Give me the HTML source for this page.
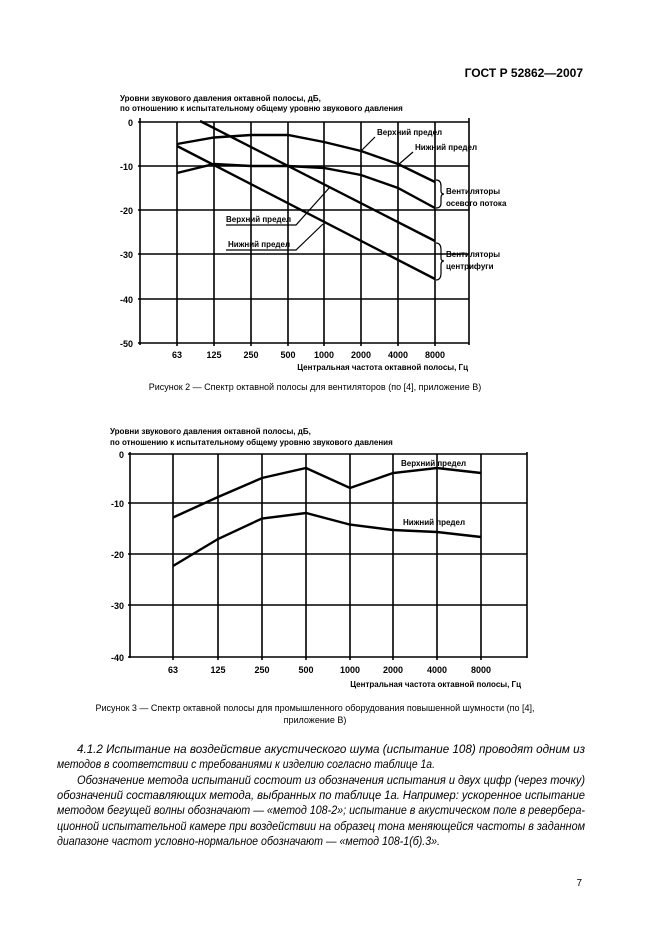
<!DOCTYPE html>
<html><head><meta charset="utf-8"><style>
body{margin:0;background:#fff;}
svg{display:block;font-family:"Liberation Sans","DejaVu Sans",sans-serif;}
.t{font-size:8px;font-weight:bold;}
.tk{font-size:9px;font-weight:bold;}
.gr{stroke:#000;stroke-width:1.6;}
.ln{fill:none;stroke:#000;stroke-width:2.4;}
.p{font-size:11.5px;font-style:italic;}
</style></head><body>
<svg width="661" height="936" viewBox="0 0 661 936">
<text x="583" y="77" font-size="12" font-weight="bold" text-anchor="end">ГОСТ Р 52862—2007</text>

<!-- Chart 1 -->
<text class="t" x="120" y="101">Уровни звукового давления октавной полосы, дБ,</text>
<text class="t" x="120" y="111">по отношению к испытательному общему уровню звукового давления</text>
<g class="gr">
<line x1="140" y1="118" x2="140" y2="345"/>
<line x1="469" y1="118" x2="469" y2="345"/>
<line x1="138" y1="122" x2="469" y2="122"/>
<line x1="138" y1="166" x2="469" y2="166"/>
<line x1="138" y1="210" x2="469" y2="210"/>
<line x1="138" y1="254" x2="469" y2="254"/>
<line x1="138" y1="299" x2="469" y2="299"/>
<line x1="138" y1="343" x2="469" y2="343"/>
<line x1="177" y1="122" x2="177" y2="346"/>
<line x1="214" y1="122" x2="214" y2="346"/>
<line x1="251" y1="122" x2="251" y2="346"/>
<line x1="288" y1="122" x2="288" y2="346"/>
<line x1="324" y1="122" x2="324" y2="346"/>
<line x1="361" y1="122" x2="361" y2="346"/>
<line x1="398" y1="122" x2="398" y2="346"/>
<line x1="435" y1="122" x2="435" y2="346"/>
</g>
<g class="tk" text-anchor="end">
<text x="133" y="126">0</text><text x="133" y="170">-10</text><text x="133" y="214">-20</text>
<text x="133" y="258">-30</text><text x="133" y="303">-40</text><text x="133" y="347">-50</text>
</g>
<g class="tk" text-anchor="middle">
<text x="177" y="358">63</text><text x="214" y="358">125</text><text x="251" y="358">250</text><text x="288" y="358">500</text>
<text x="324" y="358">1000</text><text x="361" y="358">2000</text><text x="398" y="358">4000</text><text x="435" y="358">8000</text>
</g>
<text class="t" x="468" y="370" text-anchor="end" font-size="9">Центральная частота октавной полосы, Гц</text>
<polyline class="ln" points="177,144 214,137.5 251,135 288,135 324,142 361,151 398,164 435,182"/>
<polyline class="ln" points="177,173 214,164 251,166 288,166 324,168 361,175 398,188 435,208"/>
<line class="ln" x1="200" y1="121" x2="435" y2="241"/>
<line class="ln" x1="177" y1="146" x2="435" y2="279"/>
<g class="t">
<text x="377" y="135">Верхний предел</text>
<text x="415" y="150">Нижний предел</text>
<text x="226" y="222">Верхний предел</text>
<text x="228" y="247">Нижний предел</text>
<text x="446" y="194">Вентиляторы</text><text x="446" y="206">осевого потока</text>
<text x="446" y="257">Вентиляторы</text><text x="446" y="269">центрифуги</text>
</g>
<g fill="none" stroke="#000" stroke-width="1.2">
<polyline points="375,137 361,151"/>
<polyline points="413,152 398,165"/>
<polyline points="226,225 296,225 330,187"/>
<polyline points="226,250 296,250 323,224"/>
<path d="M436,180 Q441,180 441,186 L441,191 Q441,194 444,194 Q441,194 441,198 L441,203 Q441,208 436,208"/>
<path d="M436,243 Q441,243 441,250 L441,258 Q441,261 444,261 Q441,261 441,265 L441,273 Q441,280 436,280"/>
</g>
<text x="315" y="390" font-size="9" text-anchor="middle">Рисунок 2 — Спектр октавной полосы для вентиляторов (по [4], приложение В)</text>

<!-- Chart 2 -->
<text class="t" x="110" y="434">Уровни звукового давления октавной полосы, дБ,</text>
<text class="t" x="110" y="445">по отношению к испытательному общему уровню звукового давления</text>
<g class="gr">
<line x1="130" y1="452" x2="130" y2="658"/>
<line x1="527" y1="452" x2="527" y2="658"/>
<line x1="128" y1="454" x2="527" y2="454"/>
<line x1="128" y1="503" x2="527" y2="503"/>
<line x1="128" y1="554" x2="527" y2="554"/>
<line x1="128" y1="605" x2="527" y2="605"/>
<line x1="128" y1="657" x2="527" y2="657"/>
<line x1="173" y1="454" x2="173" y2="660"/>
<line x1="218" y1="454" x2="218" y2="660"/>
<line x1="262" y1="454" x2="262" y2="660"/>
<line x1="306" y1="454" x2="306" y2="660"/>
<line x1="350" y1="454" x2="350" y2="660"/>
<line x1="393" y1="454" x2="393" y2="660"/>
<line x1="437" y1="454" x2="437" y2="660"/>
<line x1="481" y1="454" x2="481" y2="660"/>
</g>
<g class="tk" text-anchor="end">
<text x="124" y="458">0</text><text x="124" y="507">-10</text><text x="124" y="558">-20</text>
<text x="124" y="609">-30</text><text x="124" y="661">-40</text>
</g>
<g class="tk" text-anchor="middle">
<text x="173" y="673">63</text><text x="218" y="673">125</text><text x="262" y="673">250</text><text x="306" y="673">500</text>
<text x="350" y="673">1000</text><text x="393" y="673">2000</text><text x="437" y="673">4000</text><text x="481" y="673">8000</text>
</g>
<text class="t" x="521" y="687" text-anchor="end" font-size="9">Центральная частота октавной полосы, Гц</text>
<polyline class="ln" points="173,517.5 218,497 262,478 306,468 350,488 393,473 437,468 481,473"/>
<polyline class="ln" points="173,566 218,539 262,518.5 306,513 350,524.6 393,530 437,532 481,537"/>
<g class="t" font-size="8.5">
<text x="401" y="466">Верхний предел</text>
<text x="403" y="525">Нижний предел</text>
</g>
<text x="315" y="711" font-size="9" text-anchor="middle">Рисунок 3 — Спектр октавной полосы для промышленного оборудования повышенной шумности (по [4],</text>
<text x="315" y="723" font-size="9" text-anchor="middle">приложение В)</text>

<g class="p">
<text x="77" y="753" textLength="508" lengthAdjust="spacingAndGlyphs">4.1.2 Испытание на воздействие акустического шума (испытание 108) проводят одним из</text>
<text x="57" y="768" textLength="378" lengthAdjust="spacingAndGlyphs">методов в соответствии с требованиями к изделию согласно таблице 1а.</text>
<text x="77" y="784" textLength="508" lengthAdjust="spacingAndGlyphs">Обозначение метода испытаний состоит из обозначения испытания и двух цифр (через точку)</text>
<text x="57" y="799" textLength="528" lengthAdjust="spacingAndGlyphs">обозначений составляющих метода, выбранных по таблице 1а. Например: ускоренное испытание</text>
<text x="57" y="814" textLength="528" lengthAdjust="spacingAndGlyphs">методом бегущей волны обозначают — «метод 108-2»; испытание в акустическом поле в реверберa-</text>
<text x="57" y="830" textLength="528" lengthAdjust="spacingAndGlyphs">ционной испытательной камере при воздействии на образец тона меняющейся частоты в заданном</text>
<text x="57" y="845" textLength="383" lengthAdjust="spacingAndGlyphs">диапазоне частот условно-нормальное обозначают — «метод 108-1(б).3».</text>
</g>
<text x="582" y="886" font-size="10" text-anchor="end">7</text>
</svg>
</body></html>
